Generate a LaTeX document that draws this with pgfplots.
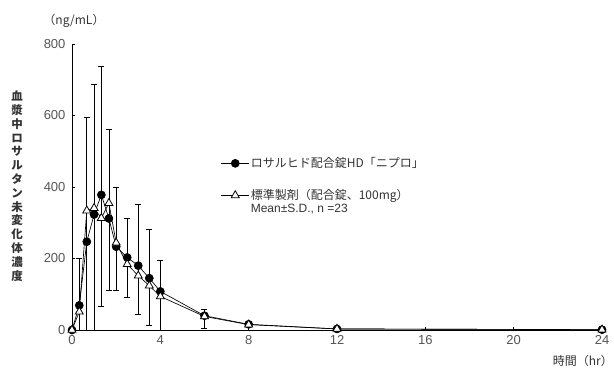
\documentclass[border=0pt]{standalone}
\usepackage{fontspec}
\setmainfont{Liberation Sans}
\newfontfamily\cjk{Noto Sans CJK JP}
\usepackage{pgfplots}
\pgfplotsset{compat=1.18}
\definecolor{txt}{HTML}{333333}
\definecolor{tick}{HTML}{555555}
\begin{document}
\begin{tikzpicture}
\begin{axis}[
  width=530pt, height=286pt, scale only axis,
  xmin=0, xmax=24, ymin=0, ymax=800,
  axis lines=left, axis line style={-, black, line width=0.8pt},
  tick align=inside, major tick length=3pt,
  tick style={black, line width=0.6pt},
  xtick={0,4,8,12,16,20,24},
  ytick={0,200,400,600,800},
  /pgf/number format/assume math mode=true,
  ticklabel style={font=\fontsize{13}{13}\selectfont, text=tick},
  xticklabel style={yshift=-2pt},
  yticklabel style={xshift=-3pt},
  clip=false,
  legend style={draw=none, fill=none, at={(axis cs:6.6,492)}, anchor=north west,
    font=\fontsize{12}{12}\selectfont, text=txt, row sep=0pt,
    nodes={inner sep=1.2pt}},
  legend cell align=left,
  legend image code/.code={\draw[mark repeat=2, mark phase=2] plot coordinates {(0pt,0pt) (14pt,0pt) (28pt,0pt)};},
]
% bounding box
\path (axis cs:-3.260,-114.7) rectangle (axis cs:24.543,923.1);

\addplot[black, line width=0.65pt, mark=*, mark size=4pt,
  mark options={solid, fill=black},
  error bars/.cd, y dir=both, y explicit,
  error bar style={black, line width=0.65pt},
  error mark options={rotate=90, mark size=3pt, black, line width=0.65pt}]
coordinates {
 (0,0)
 (0.33,69) += (0,131) -= (0,69)
 (0.67,247) += (0,349) -= (0,247)
 (1,323) += (0,364) -= (0,323)
 (1.33,378) += (0,359) -= (0,311)
 (1.67,312) += (0,250) -= (0,200)
 (2,233) += (0,166) -= (0,121)
 (2.5,203) += (0,110) -= (0,111)
 (3,180) += (0,172) -= (0,136)
 (3.5,145) += (0,136) -= (0,131)
 (4,108) += (0,87) -= (0,108)
 (6,40) += (0,19) -= (0,34)
 (8,16)
 (12,3)
 (24,1)
};
\addlegendentry{\cjk ロサルヒド配合錠HD「ニプロ」}

\addlegendimage{empty legend}
\addlegendentry{\rule[-5pt]{0pt}{19pt}}

\addplot[black, line width=0.65pt, mark=triangle*, mark size=4.6pt,
  mark options={solid, fill=white, line width=0.8pt}]
coordinates {
 (0,0) (0.33,51) (0.67,334) (1,341) (1.33,313) (1.67,355) (2,244)
 (2.5,184) (3,152) (3.5,124) (4,94) (6,38) (8,15) (12,3) (24,1)
};
\addlegendentry{\cjk 標準製剤（配合錠、100mg）}

\addlegendimage{empty legend}
\addlegendentry{Mean±S.D., n =23}

\node[font=\cjk\bfseries\fontsize{11.5}{13.8}\selectfont, text=txt, align=center, inner sep=0pt]
  at (axis cs:-2.49,402.8) {血\\漿\\中\\ロ\\サ\\ル\\タ\\ン\\未\\変\\化\\体\\濃\\度};
\node[font=\cjk\fontsize{12}{12}\selectfont, text=txt, inner sep=0pt]
  at (axis cs:0.09,864) {（ng/mL）};
\node[font=\cjk\fontsize{12}{12}\selectfont, text=txt, inner sep=0pt, anchor=east]
  at (axis cs:24.5,-86.7) {時間（hr）};
\end{axis}
\end{tikzpicture}
\end{document}
